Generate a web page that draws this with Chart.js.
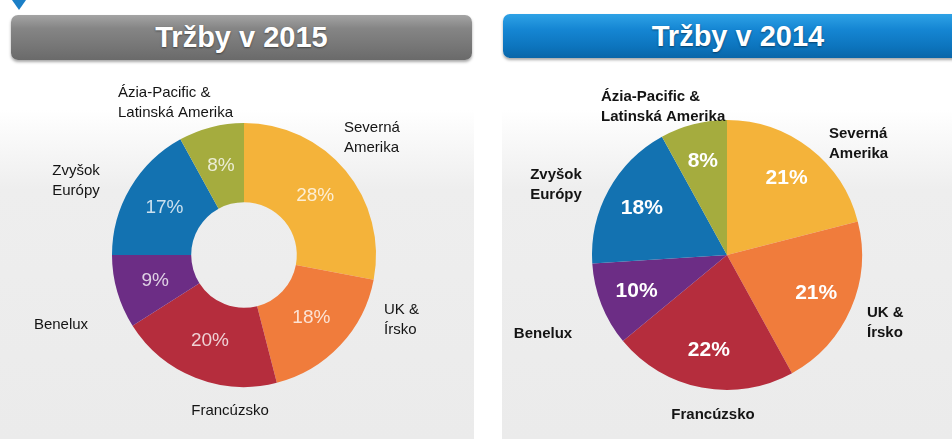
<!DOCTYPE html>
<html>
<head>
<meta charset="utf-8">
<script src="https://cdn.jsdelivr.net/npm/chart.js@4.4.1/dist/chart.umd.min.js"></script>
<style>
  html, body { margin: 0; padding: 0; width: 952px; height: 439px; overflow: hidden; background: #fff; }
  body { position: relative; font-family: "Liberation Sans", Arial, sans-serif; }
  .panel { position: absolute; top: 0; height: 439px;
    background: linear-gradient(#ffffff 0px, #ffffff 110px, #eeeeee 190px, #ebebeb 439px); }
  .bar { position: absolute; color: #fff; font-weight: bold; font-size: 29px; text-align: center;
    line-height: 45px; border-radius: 7px; text-shadow: 0 1px 2px rgba(0,0,0,0.45); }
  #bar15 { left: 11px; top: 15px; width: 461px; height: 45px;
    background: linear-gradient(#a4a4a4 0%, #858585 30%, #767676 70%, #6a6a6a 100%);
    box-shadow: 0 2px 3px rgba(0,0,0,0.35); }
  #bar14 { left: 503px; top: 14px; width: 470px; height: 44px;
    background: linear-gradient(#2ea2e6 0%, #1586d3 35%, #0c74bd 75%, #0a66a8 100%);
    box-shadow: 0 2px 3px rgba(0,0,0,0.35); }
  .tri { position: absolute; left: 12px; top: 0; width: 0; height: 0;
    border-left: 7px solid transparent; border-right: 7px solid transparent; border-top: 10px solid #1b7fc7; }
  .wrap { position: absolute; top: 62px; width: 476px; height: 377px; }
</style>
</head>
<body>
<div class="panel" style="left:0; width:474px;"></div>
<div class="panel" style="left:502px; width:450px;"></div>
<div class="tri"></div>
<div class="bar" id="bar15">Tržby v 2015</div>
<div class="bar" id="bar14">Tržby v 2014</div>
<div class="wrap" style="left:0;"><canvas id="chart2015"></canvas></div>
<div class="wrap" style="left:476px;"><canvas id="chart2014"></canvas></div>
<script>
// regions, clockwise from 12 o'clock
const regions = [
  ["Severná", "Amerika"],
  ["UK &", "Írsko"],
  ["Francúzsko"],
  ["Benelux"],
  ["Zvyšok", "Európy"],
  ["Ázia-Pacific &", "Latinská Amerika"],
];
const sales2015 = [28, 18, 20, 9, 17, 8];
const sales2014 = [21, 21, 22, 10, 18, 8];
const sliceColors = ["#f4b33a", "#f07c3c", "#b52d3d", "#6c2d85", "#1372b1", "#a5ac3e"];

// where each region name sits, relative to the pie centre: [dx, dy, align]
const namePlaces2015 = [[100, -127, "left"], [140, 55, "left"], [-14, 156, "center"],
  [-183, 70, "center"], [-168, -84, "center"], [-126, -162, "left"]];
const namePlaces2014 = [[102, -121, "left"], [140, 58, "left"], [-14, 160, "center"],
  [-184, 79, "center"], [-171, -80, "center"], [-126, -158, "left"]];

const sliceLabels = {
  id: "sliceLabels",
  afterDatasetsDraw(chart, args, opts) {
    const ctx = chart.ctx;
    const meta = chart.getDatasetMeta(0);
    const values = chart.data.datasets[0].data;
    ctx.save();
    ctx.textBaseline = "middle";
    // percentages inside the slices
    ctx.font = opts.pctFont;
    ctx.fillStyle = opts.pctColor;
    ctx.textAlign = "center";
    meta.data.forEach((arc, i) => {
      const p = arc.getProps(["x", "y", "startAngle", "endAngle", "innerRadius", "outerRadius"], true);
      const mid = (p.startAngle + p.endAngle) / 2;
      const r = p.innerRadius + (p.outerRadius - p.innerRadius) * opts.pctPos;
      ctx.fillText(values[i] + "%", p.x + Math.cos(mid) * r, p.y + Math.sin(mid) * r);
    });
    // region names around the pie
    const cx = meta.data[0].x, cy = meta.data[0].y;
    ctx.font = opts.nameFont;
    ctx.fillStyle = "#141414";
    chart.data.labels.forEach((lines, i) => {
      const [dx, dy, align] = opts.places[i];
      ctx.textAlign = align;
      lines.forEach((line, k) => ctx.fillText(line, cx + dx, cy + dy + k * 20));
    });
    ctx.restore();
  },
};

function makeChart(id, type, values, padding, cutout, labelOpts) {
  return new Chart(document.getElementById(id), {
    type: type,
    data: {
      labels: regions,
      datasets: [{ data: values, backgroundColor: sliceColors, borderWidth: 0 }],
    },
    options: {
      responsive: true,
      maintainAspectRatio: false,
      animation: false,
      cutout: cutout,
      layout: { padding: padding },
      plugins: { legend: { display: false }, tooltip: { enabled: false }, sliceLabels: labelOpts },
    },
    plugins: [sliceLabels],
  });
}

makeChart("chart2015", "doughnut", sales2015,
  { left: 112, right: 100, top: 61, bottom: 52 }, "40%",
  { pctFont: "19px 'Liberation Sans', Arial", pctColor: "rgba(255,255,255,0.78)", pctPos: 0.5,
    nameFont: "15px 'Liberation Sans', Arial", places: namePlaces2015 });

makeChart("chart2014", "pie", sales2014,
  { left: 116, right: 90, top: 58, bottom: 49 }, 0,
  { pctFont: "bold 21px 'Liberation Sans', Arial", pctColor: "#ffffff", pctPos: 0.72,
    nameFont: "bold 15px 'Liberation Sans', Arial", places: namePlaces2014 });
</script>
</body>
</html>
